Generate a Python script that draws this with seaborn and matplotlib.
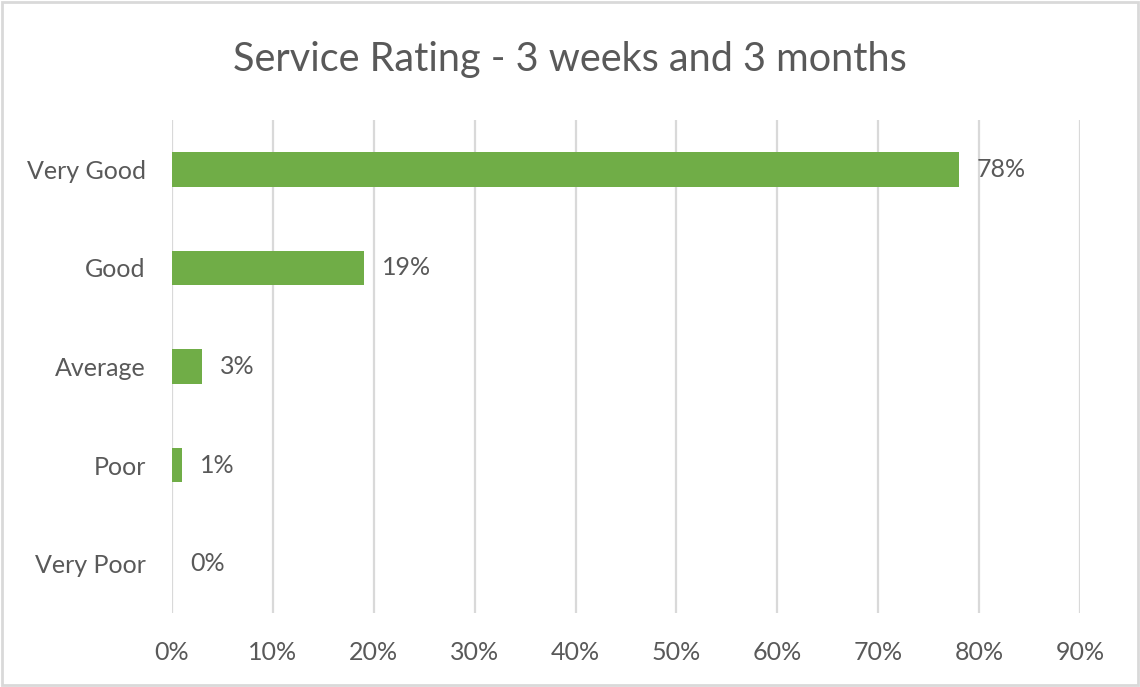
import matplotlib
matplotlib.use("Agg")
import matplotlib.pyplot as plt
from matplotlib.patches import Rectangle
from matplotlib.ticker import FuncFormatter
import seaborn as sns
import pandas as pd

categories = ["Very Good", "Good", "Average", "Poor", "Very Poor"]
percentages = [78, 19, 3, 1, 0]
x_ticks = [0, 10, 20, 30, 40, 50, 60, 70, 80, 90]

sns.set_theme(style="white")
plt.rcParams["font.family"] = ["Lato", "DejaVu Sans"]

text_color = "#595959"
grid_color = "#D9D9D9"
bar_color = "#70AD47"

df = pd.DataFrame({"rating": categories, "pct": percentages})

fig = plt.figure(figsize=(11.4, 6.87), dpi=100)
ax = fig.add_axes([0.1509, 0.1077, 0.7965, 0.7176])

sns.barplot(data=df, x="pct", y="rating", order=categories, color=bar_color,
            saturation=1, width=0.35, linewidth=0, ax=ax, orient="h")

ax.set_xlim(0, 90)
ax.set_ylim(4.5, -0.5)
ax.set_xticks(x_ticks)
ax.xaxis.set_major_formatter(FuncFormatter(lambda v, _: f"{v:.0f}%"))
ax.grid(axis="x", color=grid_color, linewidth=1.6)
ax.set_axisbelow(True)
for s in ax.spines.values():
    s.set_visible(False)
ax.tick_params(axis="both", length=0, labelsize=18, colors=text_color)
ax.tick_params(axis="x", pad=20)
ax.tick_params(axis="y", pad=19)
ax.set_xlabel("")
ax.set_ylabel("")

for i, v in enumerate(percentages):
    ax.annotate(f"{v}%", xy=(v, i), xytext=(13, 0), textcoords="offset points",
                ha="left", va="center", fontsize=18, color=text_color)

fig.text(0.5, 0.914, "Service Rating - 3 weeks and 3 months", ha="center",
         va="center", fontsize=28.5, color=text_color)

fig.patches.append(Rectangle((0.002, 0.003), 0.996, 0.994, transform=fig.transFigure,
                             fill=False, edgecolor="#D9D9D9", linewidth=2))

fig.savefig("out.png", dpi=100, facecolor="white")
